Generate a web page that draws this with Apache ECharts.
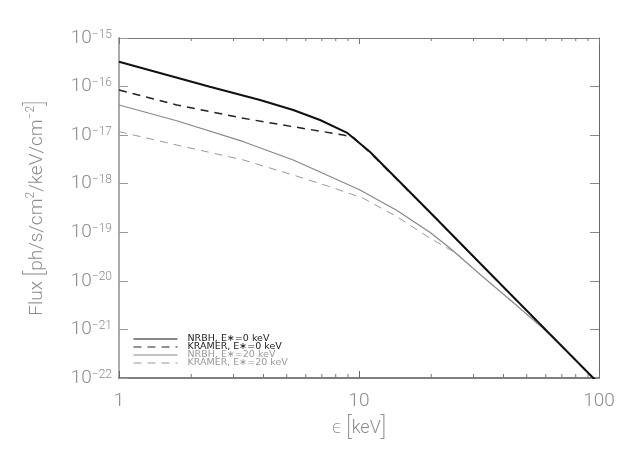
<!DOCTYPE html>
<html>
<head>
<meta charset="utf-8">
<script src="https://cdn.jsdelivr.net/npm/echarts@6/dist/echarts.min.js"></script>
<style>
  html, body { margin: 0; padding: 0; background: #fff; }
  #chart { width: 635px; height: 454px; }
</style>
</head>
<body>
<div id="chart"></div>
<script>
// values (energy in keV, flux in ph/s/cm2/keV/cm-2)
const nrbh0E = [1, 2.39, 3.87, 5.32, 6.88, 8.89, 11.1, 19.8, 35.1, 62.5, 100]
const nrbh0F = [3.25e-16, 9.93e-17, 5.28e-17, 3.30e-17, 2.05e-17, 1.13e-17, 4.56e-18, 2.55e-19, 1.43e-20, 8.0e-22, 7.6e-23]

const kramer0E = [1, 1.74, 3.30, 5.32, 8.60, 9.47, 11.1, 19.8, 35.1, 62.5, 100]
const kramer0F = [8.49e-17, 4.18e-17, 2.22e-17, 1.49e-17, 1.01e-17, 9.0e-18, 4.39e-18, 2.55e-19, 1.43e-20, 8.0e-22, 7.6e-23]

const nrbh20E = [1, 1.74, 3.30, 5.32, 7.34, 10.1, 14.4, 19.8, 23.9, 32.9, 45.4, 58.6, 73.3, 94.7, 100]
const nrbh20F = [4.18e-17, 1.98e-17, 7.33e-18, 3.08e-18, 1.51e-18, 7.41e-19, 2.81e-19, 9.89e-20, 4.74e-20, 1.20e-20, 3.10e-21, 1.04e-21, 3.51e-22, 1.0e-22, 7.6e-23]

const kramer20E = [1, 1.74, 3.30, 5.32, 7.57, 10.42, 14.4, 19.8, 25.5, 32.9, 45.4, 58.6, 73.3, 94.7, 100]
const kramer20F = [1.18e-17, 6.27e-18, 3.08e-18, 1.51e-18, 8.67e-19, 5.01e-19, 2.09e-19, 7.52e-20, 3.69e-20, 1.20e-20, 3.10e-21, 1.04e-21, 3.51e-22, 1.0e-22, 7.6e-23]

const seriesNames = ['NRBH, E∗=0 keV', 'KRAMER, E∗=0 keV', 'NRBH, E∗=20 keV', 'KRAMER, E∗=20 keV']
const minorTicksX = [2, 3, 4, 5, 6, 7, 8, 9, 20, 30, 40, 50, 60, 70, 80, 90]
const yMin = 1e-22
const yMax = 1e-15

// echarts log axis can't cope with 1e-22, so the y axis works in units of 1e-22
const fluxUnit = 1e-22

function pairs(xs, ys) {
  return xs.map((x, i) => [x, ys[i] / fluxUnit])
}

const labelFont = 'Roboto, "DejaVu Sans", sans-serif'
const grey = '#8c8c8c'

const myChart = echarts.init(document.getElementById('chart'))

myChart.setOption({
  animation: false,
  backgroundColor: '#fff',
  grid: { left: 119, right: 36, top: 38, bottom: 76, containLabel: false },
  legend: {
    orient: 'vertical',
    left: 128,
    top: 329,
    itemWidth: 44,
    itemHeight: 8,
    itemGap: -2,
    lineStyle: { width: 1 },
    itemStyle: { color: 'rgba(0,0,0,0)', borderColor: 'rgba(0,0,0,0)', borderWidth: 0 },
    textStyle: { fontFamily: '"DejaVu Sans", sans-serif', fontSize: 9.5, lineHeight: 9, padding: [0, 0, 0, 5] },
    data: [
      { name: seriesNames[0], textStyle: { color: '#222' } },
      { name: seriesNames[1], textStyle: { color: '#222' } },
      { name: seriesNames[2], textStyle: { color: '#999' } },
      { name: seriesNames[3], textStyle: { color: '#999' } }
    ]
  },
  graphic: [
    {
      type: 'text',
      x: 37,
      y: 208,
      rotation: Math.PI / 2,
      style: {
        text: 'Flux {b|[}ph/s/cm{s|2}/keV/cm{s|−2}{b|]}',
        fill: grey,
        font: '300 19px ' + labelFont,
        align: 'center',
        verticalAlign: 'middle',
        rich: {
          s: { fontSize: 12, fontFamily: labelFont, fontWeight: 300, fill: grey, verticalAlign: 'top' },
          b: { fontSize: 25, fontFamily: labelFont, fontWeight: 200, fill: grey }
        }
      }
    }
  ],
  xAxis: [
    {
      type: 'log', logBase: 10, min: 1, max: 100, position: 'bottom',
      name: '{e|ϵ} {b|[}{t|keV}{b|]}',
      nameLocation: 'middle', nameGap: 36,
      nameTextStyle: {
        color: grey,
        rich: {
          e: { fontSize: 18, fontFamily: labelFont, fontWeight: 300, color: grey },
          t: { fontSize: 18, fontFamily: labelFont, fontWeight: 300, color: grey },
          b: { fontSize: 25, fontFamily: labelFont, fontWeight: 200, color: grey }
        }
      },
      axisLine: { show: true, lineStyle: { color: '#555', width: 1.5 } },
      axisTick: { show: true, inside: true, length: 7, lineStyle: { color: '#666' } },
      axisLabel: { margin: 14, fontSize: 19, fontFamily: labelFont, fontWeight: 300, color: grey },
      splitLine: { show: false }
    },
    {
      type: 'log', logBase: 10, min: 1, max: 100, position: 'top',
      axisLine: { show: true, lineStyle: { color: '#777', width: 1 } },
      axisTick: { show: true, inside: true, length: 6, lineStyle: { color: '#777' } },
      axisLabel: { show: false },
      splitLine: { show: false }
    }
  ],
  yAxis: [
    {
      type: 'log', logBase: 10, min: yMin / fluxUnit, max: yMax / fluxUnit, splitNumber: 7, position: 'left',
      axisLine: { show: true, lineStyle: { color: '#aaa', width: 2 } },
      axisTick: { show: true, inside: true, length: 9, lineStyle: { color: '#999' } },
      axisLabel: {
        margin: 7,
        formatter: function (v) {
          const p = Math.round(Math.log10(v * fluxUnit))
          return '{b|10}{s|−' + Math.abs(p) + '}'
        },
        rich: {
          b: { fontSize: 19, fontFamily: labelFont, fontWeight: 300, color: grey },
          s: { fontSize: 12, fontFamily: labelFont, fontWeight: 300, color: grey, verticalAlign: 'top' }
        }
      },
      splitLine: { show: false }
    },
    {
      type: 'log', logBase: 10, min: yMin / fluxUnit, max: yMax / fluxUnit, splitNumber: 7, position: 'right',
      axisLine: { show: true, lineStyle: { color: '#666', width: 1 } },
      axisTick: { show: true, inside: true, length: 9, lineStyle: { color: '#888' } },
      axisLabel: { show: false },
      splitLine: { show: false }
    }
  ],
  series: [
    {
      // minor ticks of the energy axis, top and bottom
      type: 'custom', xAxisIndex: 0, yAxisIndex: 0, silent: true, clip: false, z: 1,
      data: minorTicksX.map(v => [v, yMin / fluxUnit]),
      renderItem: function (params, api) {
        const v = api.value(0)
        const b = api.coord([v, yMin / fluxUnit])
        const t = api.coord([v, yMax / fluxUnit])
        return {
          type: 'group',
          children: [
            { type: 'line', shape: { x1: b[0], y1: b[1], x2: b[0], y2: b[1] - 4 }, style: { stroke: '#777', lineWidth: 1 } },
            { type: 'line', shape: { x1: t[0], y1: t[1], x2: t[0], y2: t[1] + 3 }, style: { stroke: '#777', lineWidth: 1 } }
          ]
        }
      }
    },
    {
      name: seriesNames[0], type: 'line', xAxisIndex: 0, yAxisIndex: 0,
      symbol: 'none', showSymbol: false, z: 4,
      lineStyle: { color: '#111', width: 2 },
      itemStyle: { color: '#111' },
      data: pairs(nrbh0E, nrbh0F)
    },
    {
      name: seriesNames[1], type: 'line', xAxisIndex: 0, yAxisIndex: 0,
      symbol: 'none', showSymbol: false, z: 3,
      lineStyle: { color: '#222', width: 1.5, type: [8, 6] },
      itemStyle: { color: '#222' },
      data: pairs(kramer0E, kramer0F)
    },
    {
      name: seriesNames[2], type: 'line', xAxisIndex: 0, yAxisIndex: 0,
      symbol: 'none', showSymbol: false, z: 2,
      lineStyle: { color: '#888', width: 1.2 },
      itemStyle: { color: '#888' },
      data: pairs(nrbh20E, nrbh20F)
    },
    {
      name: seriesNames[3], type: 'line', xAxisIndex: 0, yAxisIndex: 0,
      symbol: 'none', showSymbol: false, z: 2,
      lineStyle: { color: '#999', width: 1, type: [8, 6] },
      itemStyle: { color: '#999' },
      data: pairs(kramer20E, kramer20F)
    }
  ]
})
</script>
</body>
</html>
